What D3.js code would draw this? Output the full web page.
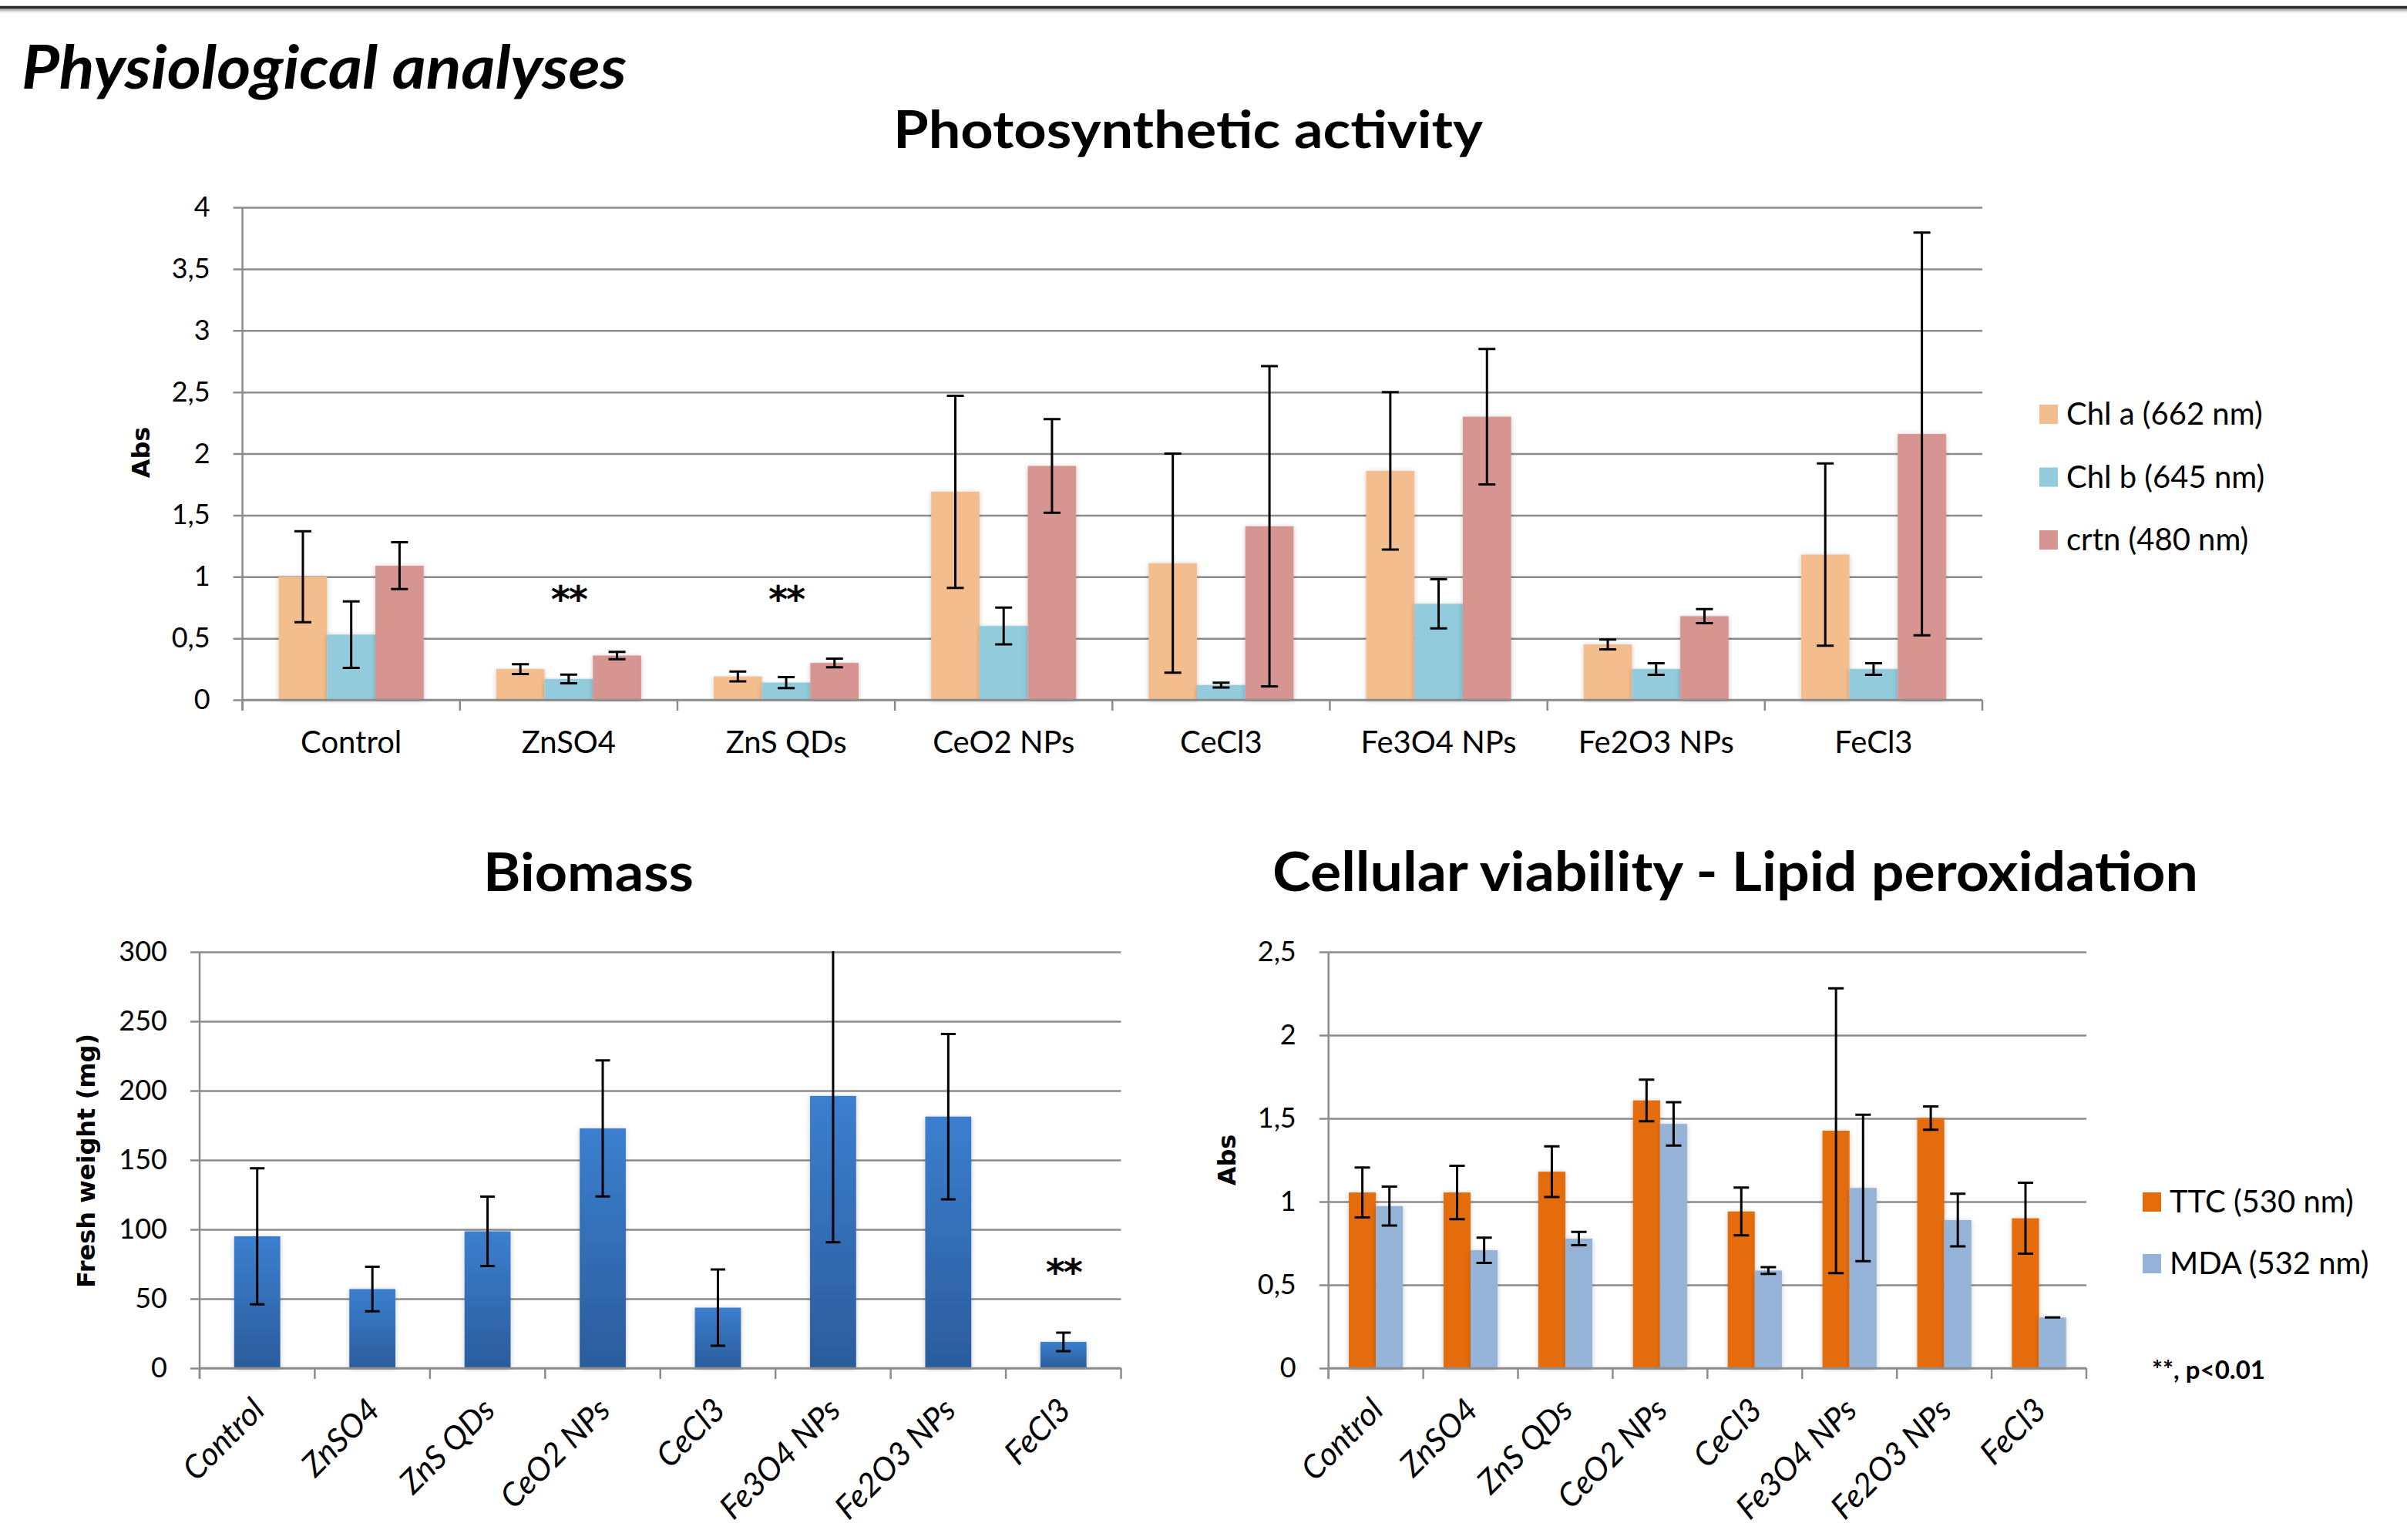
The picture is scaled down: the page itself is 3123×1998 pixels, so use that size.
<!DOCTYPE html>
<html>
<head>
<meta charset="utf-8">
<script src="https://cdn.jsdelivr.net/npm/d3@7"></script>
<style>
    body { margin: 0; background: #fff; }
    text { font-family: Lato, "Open Sans", sans-serif; fill: #000; }
</style>
</head>
<body>
<script>
// Data
const categories = ["Control", "ZnSO4", "ZnS QDs", "CeO2 NPs", "CeCl3", "Fe3O4 NPs", "Fe2O3 NPs", "FeCl3"]

// Photosynthetic activity (Abs)
const chlA = [1.0, 0.25, 0.19, 1.69, 1.11, 1.86, 0.45, 1.18]
const chlAErr = [0.37, 0.04, 0.04, 0.78, 0.89, 0.64, 0.04, 0.74]
const chlB = [0.53, 0.17, 0.14, 0.60, 0.12, 0.78, 0.25, 0.25]
const chlBErr = [0.27, 0.035, 0.045, 0.15, 0.02, 0.20, 0.047, 0.047]
const crtn = [1.09, 0.36, 0.30, 1.90, 1.41, 2.30, 0.68, 2.16]
const crtnErr = [0.19, 0.03, 0.035, 0.38, 1.30, 0.55, 0.057, 1.635]
const photoTicks = [0, 0.5, 1, 1.5, 2, 2.5, 3, 3.5, 4]
const photoStars = ["ZnSO4", "ZnS QDs"]
const photoStarLevel = 0.85

// Biomass (fresh weight, mg)
const biomass = [95, 57, 98.6, 172.8, 43.6, 196.2, 181.3, 18.9]
const biomassErr = [49, 16, 25, 49, 27.5, 105.5, 59.6, 6.7]
const biomassTicks = [0, 50, 100, 150, 200, 250, 300]
const biomassStars = ["FeCl3"]
const biomassStarLevel = 72

// Cellular viability - lipid peroxidation (Abs)
const ttc = [1.055, 1.055, 1.18, 1.608, 0.941, 1.426, 1.502, 0.90]
const ttcErr = [0.15, 0.16, 0.152, 0.125, 0.144, 0.855, 0.07, 0.213]
const mda = [0.973, 0.708, 0.778, 1.467, 0.586, 1.082, 0.889, 0.304]
const mdaErr = [0.117, 0.076, 0.04, 0.13, 0.02, 0.44, 0.158, 0]
const viabTicks = [0, 0.5, 1, 1.5, 2, 2.5]

const commaFormat = d => String(d).replace('.', ',')
const gridColor = '#8c8c8c'
const boldSans = '"DejaVu Sans", Verdana, sans-serif'

const svg = d3.select('body')
    .append('svg')
    .attr('width', 3123)
    .attr('height', 1998)

const defs = svg.append('defs')

const blueGrad = defs.append('linearGradient')
    .attr('id', 'blueGrad')
    .attr('x1', 0).attr('y1', 0).attr('x2', 0).attr('y2', 1)
blueGrad.append('stop').attr('offset', '0%').attr('stop-color', '#3b7fcf')
blueGrad.append('stop').attr('offset', '100%').attr('stop-color', '#2b5c9c')

const topGrad = defs.append('linearGradient')
    .attr('id', 'topGrad')
    .attr('x1', 0).attr('y1', 0).attr('x2', 0).attr('y2', 1)
topGrad.append('stop').attr('offset', '0%').attr('stop-color', '#9a9a9a')
topGrad.append('stop').attr('offset', '100%').attr('stop-color', '#ffffff')

defs.append('filter')
    .attr('id', 'barShadow')
    .attr('x', '-20%').attr('y', '-5%').attr('width', '140%').attr('height', '110%')
    .append('feDropShadow')
    .attr('dx', 0).attr('dy', 1)
    .attr('stdDeviation', 3)
    .attr('flood-color', '#000')
    .attr('flood-opacity', 0.22)

// page frame line at top
svg.append('rect').attr('x', 0).attr('y', 11).attr('width', 3123).attr('height', 6).attr('fill', 'url(#topGrad)')
svg.append('line')
    .attr('x1', 0).attr('x2', 3123)
    .attr('y1', 9.5).attr('y2', 9.5)
    .attr('stroke', '#2b2b2b')
    .attr('stroke-width', 3.5)

// Titles
function addTitle(x, y, size, len, txt, italic) {
    svg.append('text')
        .attr('x', x)
        .attr('y', y)
        .attr('font-size', size)
        .attr('font-weight', 'bold')
        .attr('font-style', italic ? 'italic' : 'normal')
        .attr('textLength', len)
        .attr('lengthAdjust', 'spacingAndGlyphs')
        .text(txt)
}

addTitle(28, 115, 79, 785, 'Physiological analyses', true)
addTitle(1159, 192, 67, 765, 'Photosynthetic activity')
addTitle(627, 1156, 69, 273, 'Biomass')
addTitle(1651, 1156, 70, 1201, 'Cellular viability - Lipid peroxidation')

function drawBarChart(c) {
    const plotWidth = c.right - c.left
    const x = d3.scaleBand().domain(categories).range([c.left, c.right])
    // Excel default gap width 150%
    const barW = x.bandwidth() / (c.series.length + 1.5)
    const xs = d3.scaleBand()
        .domain(c.series.map(s => s.name))
        .range([0, barW * c.series.length])
    const offset = (x.bandwidth() - barW * c.series.length) / 2
    const y = d3.scaleLinear().domain([0, c.max]).range([c.bottom, c.top])

    const container = svg.append('g')

    defs.append('clipPath')
        .attr('id', c.id + '-clip')
        .append('rect')
        .attr('x', c.left - 30)
        .attr('y', c.top - 1)
        .attr('width', plotWidth + 60)
        .attr('height', c.bottom - c.top + 30)

    // Y axis + gridlines
    const yAxis = d3.axisLeft(y)
        .tickValues(c.ticks)
        .tickFormat(commaFormat)
        .tickSizeInner(-(plotWidth + 12))
        .tickSizeOuter(0)
        .tickPadding(30)

    const yAxisGroup = container.append('g')
        .attr('transform', `translate(${c.left - 12},0)`)
        .call(yAxis)
        .attr('font-size', c.yFont)
    yAxisGroup.select('.domain').remove()
    yAxisGroup.selectAll('line')
        .attr('stroke', gridColor)
        .attr('stroke-width', 2.5)
    yAxisGroup.selectAll('text').attr('fill', '#000')

    // Bars
    const rows = c.series.flatMap(s => categories.map((cat, i) => ({
        cat: cat, name: s.name, fill: s.fill, v: s.values[i], e: s.errors[i]
    })))

    container.append('g')
        .selectAll('rect')
        .data(rows)
        .join('rect')
        .attr('x', d => x(d.cat) + offset + xs(d.name))
        .attr('y', d => y(d.v))
        .attr('width', xs.bandwidth())
        .attr('height', d => y(0) - y(d.v))
        .attr('fill', d => d.fill)
        .attr('filter', 'url(#barShadow)')

    // X axis line + category boundary ticks
    container.append('line')
        .attr('x1', c.left).attr('x2', c.right)
        .attr('y1', c.bottom).attr('y2', c.bottom)
        .attr('stroke', gridColor).attr('stroke-width', 2.5)

    container.append('line')
        .attr('x1', c.left).attr('x2', c.left)
        .attr('y1', c.top).attr('y2', c.bottom + 14)
        .attr('stroke', gridColor).attr('stroke-width', 2.5)

    container.selectAll('.btick')
        .data(categories.map(d => x(d)).concat([c.right]))
        .join('line')
        .attr('class', 'btick')
        .attr('x1', d => d).attr('x2', d => d)
        .attr('y1', c.bottom).attr('y2', c.bottom + 14)
        .attr('stroke', gridColor).attr('stroke-width', 2.5)

    // Category labels
    const xAxis = d3.axisBottom(x).tickSize(0).tickPadding(0)
    const xAxisGroup = container.append('g')
        .attr('transform', `translate(0,${c.bottom})`)
        .call(xAxis)
        .attr('font-size', c.xFont)
    xAxisGroup.select('.domain').remove()
    if (c.rotate) {
        xAxisGroup.selectAll('text')
            .attr('y', 0)
            .attr('dy', 0)
            .attr('fill', '#000')
            .attr('font-style', 'italic')
            .attr('text-anchor', 'end')
            .attr('transform', `translate(${c.labelDx},${c.labelDy}) rotate(-45)`)
    } else {
        xAxisGroup.selectAll('text')
            .attr('y', c.labelDy)
            .attr('dy', 0)
            .attr('fill', '#000')
    }

    // Error bars
    const errGroup = container.append('g').attr('clip-path', `url(#${c.id}-clip)`)
    errGroup.selectAll('path')
        .data(rows)
        .join('path')
        .attr('d', d => {
            const cx = x(d.cat) + offset + xs(d.name) + xs.bandwidth() / 2
            const hi = y(d.v + d.e)
            const lo = y(d.v - d.e)
            const hw = c.capWidth / 2
            return `M${cx - hw},${hi}H${cx + hw}M${cx},${hi}V${lo}M${cx - hw},${lo}H${cx + hw}`
        })
        .attr('fill', 'none')
        .attr('stroke', '#000')
        .attr('stroke-width', 3)

    // significance marks
    container.selectAll('.star')
        .data(c.stars)
        .join('text')
        .attr('class', 'star')
        .attr('x', d => x(d) + x.bandwidth() / 2)
        .attr('y', y(c.starLevel) + c.starSize * 0.45)
        .attr('text-anchor', 'middle')
        .attr('font-size', c.starSize)
        .attr('font-weight', 'bold')
        .style('font-family', boldSans)
        .style('letter-spacing', '-2px')
        .text('**')

    // Y axis title
    container.append('text')
        .attr('transform', `translate(${c.yTitleX},${c.yTitleY}) rotate(-90)`)
        .attr('text-anchor', 'middle')
        .attr('font-weight', 'bold')
        .attr('font-size', 32)
        .style('font-family', boldSans)
        .text(c.yTitle)

    // Legend
    if (c.legend) {
        const lg = container.append('g')
        lg.selectAll('rect')
            .data(c.series)
            .join('rect')
            .attr('x', c.legend.x)
            .attr('y', (d, i) => c.legend.y + i * c.legend.step - 12)
            .attr('width', 24)
            .attr('height', 25)
            .attr('fill', d => d.fill)
        lg.selectAll('text')
            .data(c.series)
            .join('text')
            .attr('x', c.legend.x + 35)
            .attr('y', (d, i) => c.legend.y + i * c.legend.step + 14)
            .attr('font-size', 40)
            .text(d => d.name)
    }
}

drawBarChart({
    id: 'photo',
    left: 314.6, right: 2572, top: 269, bottom: 908,
    max: 4, ticks: photoTicks,
    yFont: 36, xFont: 40, rotate: false, labelDy: 69,
    capWidth: 22,
    series: [
        { name: 'Chl a (662 nm)', fill: '#f4bd8d', values: chlA, errors: chlAErr },
        { name: 'Chl b (645 nm)', fill: '#92cbdb', values: chlB, errors: chlBErr },
        { name: 'crtn (480 nm)', fill: '#d79592', values: crtn, errors: crtnErr }
    ],
    stars: photoStars, starLevel: photoStarLevel, starSize: 48,
    yTitle: 'Abs', yTitleX: 194, yTitleY: 587,
    legend: { x: 2646, y: 537, step: 81.5 }
})

drawBarChart({
    id: 'biomass',
    left: 259, right: 1454.5, top: 1235, bottom: 1775,
    max: 300, ticks: biomassTicks,
    yFont: 36, xFont: 42, rotate: true, labelDx: 12, labelDy: 57,
    capWidth: 19,
    series: [
        { name: 'Biomass', fill: 'url(#blueGrad)', values: biomass, errors: biomassErr }
    ],
    stars: biomassStars, starLevel: biomassStarLevel, starSize: 48,
    yTitle: 'Fresh weight (mg)', yTitleX: 123, yTitleY: 1506
})

drawBarChart({
    id: 'viab',
    left: 1723.7, right: 2707, top: 1235, bottom: 1775,
    max: 2.5, ticks: viabTicks,
    yFont: 36, xFont: 42, rotate: true, labelDx: 12, labelDy: 57,
    capWidth: 20,
    series: [
        { name: 'TTC (530 nm)', fill: '#e46c0a', values: ttc, errors: ttcErr },
        { name: 'MDA (532 nm)', fill: '#95b3d7', values: mda, errors: mdaErr }
    ],
    stars: [], starLevel: 0, starSize: 48,
    yTitle: 'Abs', yTitleX: 1603, yTitleY: 1505,
    legend: { x: 2780, y: 1559, step: 80 }
})

svg.append('text')
    .attr('x', 2792)
    .attr('y', 1789)
    .attr('font-size', 33)
    .attr('font-weight', 'bold')
    .text('**, p<0.01')
</script>
</body>
</html>
